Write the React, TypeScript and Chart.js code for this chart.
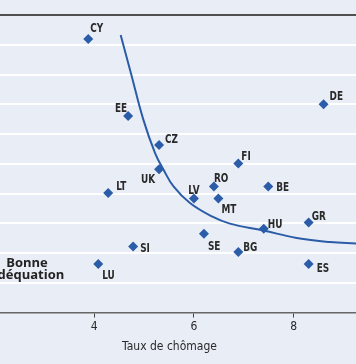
import React, { useEffect, useRef } from "react";
import { Chart, registerables } from "chart.js";

Chart.register(...registerables);

const COUNTRIES = ["CY", "EE", "CZ", "UK", "DE", "FI", "LT", "SI", "LU", "LV", "RO", "BE", "MT", "HU", "GR", "SE", "BG", "ES"];
const UNEMPLOYMENT = [3.88, 4.68, 5.3, 5.3, 8.6, 6.89, 4.28, 4.78, 4.08, 6.0, 6.4, 7.49, 6.49, 7.4, 8.3, 6.2, 6.89, 8.3];
const MISMATCH = [9.19, 6.61, 5.63, 4.82, 7.0, 5.01, 4.02, 2.22, 1.63, 3.83, 4.24, 4.24, 3.83, 2.82, 3.03, 2.65, 2.04, 1.63];

const CURVE_X = [4.53, 4.74, 4.98, 5.22, 5.39, 5.59, 5.92, 6.36, 6.72, 7.39, 8.06, 8.73, 9.25];
const CURVE_Y = [9.33, 8.02, 6.51, 5.36, 4.8, 4.24, 3.68, 3.23, 2.99, 2.76, 2.51, 2.37, 2.32];

const X_TICKS = [4, 6, 8];
const X_TITLE = "Taux de chômage";
const NOTE_LINES = ["Bonne", "adéquation"];

// label placement (pixel offsets from each marker)
const LABEL_POS: Record<string, [number, number, CanvasTextAlign]> = {
  CY: [2, -7, "left"],
  EE: [-1, -4, "right"],
  CZ: [6, -2, "left"],
  UK: [-4, 14, "right"],
  DE: [6, -4, "left"],
  FI: [3, -4, "left"],
  LT: [8, -3, "left"],
  SI: [7, 5, "left"],
  LU: [4, 15, "left"],
  LV: [0, -5, "center"],
  RO: [0, -4, "left"],
  BE: [8, 5, "left"],
  MT: [3, 14, "left"],
  HU: [4, -1, "left"],
  GR: [3, -2, "left"],
  SE: [4, 16, "left"],
  BG: [5, -1, "left"],
  ES: [8, 8, "left"],
};

const BLUE = "#2b5ca8";
const BG = "#e8edf6";
const NARROW = '"Liberation Sans Narrow", "DejaVu Sans Condensed", sans-serif';

function drawCondensed(ctx: CanvasRenderingContext2D, text: string, x: number, y: number, align: CanvasTextAlign, sx: number) {
  const w = ctx.measureText(text).width * sx;
  let left = x;
  if (align === "right") left = x - w;
  else if (align === "center") left = x - w / 2;
  ctx.save();
  ctx.translate(left, y);
  ctx.scale(sx, 1);
  ctx.textAlign = "left";
  ctx.textBaseline = "alphabetic";
  ctx.fillText(text, 0, 0);
  ctx.restore();
}

const labelPlugin = {
  id: "labelPlugin",
  afterDraw(chart: any) {
    const ctx: CanvasRenderingContext2D = chart.ctx;
    const meta = chart.getDatasetMeta(1);
    ctx.save();
    ctx.fillStyle = "#2a2a2a";
    ctx.font = `bold 13px ${NARROW}`;
    meta.data.forEach((el: any, i: number) => {
      const name = COUNTRIES[i];
      const [dx, dy, align] = LABEL_POS[name];
      drawCondensed(ctx, name, el.x + dx, el.y + dy, align, 0.76);
    });
    // axis title
    const area = chart.chartArea;
    ctx.font = `12px ${NARROW}`;
    ctx.fillStyle = "#2a2a2a";
    drawCondensed(ctx, X_TITLE, area.left + 169.5, area.bottom + 37, "center", 1);
    // note
    ctx.font = 'bold 13px "Open Sans", "DejaVu Sans", sans-serif';
    ctx.fillStyle = "#222";
    ctx.textAlign = "center";
    ctx.textBaseline = "alphabetic";
    ctx.fillText(NOTE_LINES[0], area.left + 27, area.top + 252);
    ctx.fillText(NOTE_LINES[1], area.left + 27, area.top + 264);
    ctx.restore();
  },
};

export default function App() {
  const ref = useRef<HTMLCanvasElement>(null);
  useEffect(() => {
    document.body.style.margin = "0";
    const chart = new Chart(ref.current!, {
      type: "scatter",
      data: {
        datasets: [
          {
            type: "line",
            data: CURVE_X.map((x, i) => ({ x, y: CURVE_Y[i] })),
            borderColor: BLUE,
            borderWidth: 2,
            pointRadius: 0,
            tension: 0.4,
            fill: false,
          } as any,
          {
            data: UNEMPLOYMENT.map((x, i) => ({ x, y: MISMATCH[i] })),
            pointStyle: "rectRot",
            pointRadius: 5,
            backgroundColor: BLUE,
            borderColor: BLUE,
            borderWidth: 0,
          },
        ],
      },
      options: {
        animation: false,
        responsive: false,
        layout: { autoPadding: false, padding: { top: 15, left: 0, right: 0, bottom: 28 } },
        plugins: { legend: { display: false }, tooltip: { enabled: false } },
        scales: {
          x: {
            type: "linear",
            min: 2.11,
            max: 9.25,
            afterBuildTicks: (s: any) => {
              s.ticks = X_TICKS.map((v) => ({ value: v }));
            },
            grid: { drawOnChartArea: false, drawTicks: true, tickLength: 5, color: "#444", lineWidth: 1 },
            border: { display: true, color: "#666", width: 1.5 },
            ticks: { color: "#2a2a2a", padding: 2, font: { family: NARROW, size: 12 } },
          },
          y: {
            type: "linear",
            min: 0,
            max: 10,
            ticks: { display: false, stepSize: 1 },
            border: { display: false },
            grid: {
              drawTicks: false,
              lineWidth: 2,
              color: (c: any) => (c.tick && c.tick.value === 10 ? "#505050" : c.tick && c.tick.value === 0 ? "rgba(0,0,0,0)" : "#ffffff"),
            },
          },
        },
      },
      plugins: [labelPlugin],
    });
    return () => chart.destroy();
  }, []);
  return (
    <div style={{ position: "absolute", left: 0, top: 0, width: 356, height: 364, background: BG }}>
      <canvas ref={ref} width={356} height={364} />
    </div>
  );
}
